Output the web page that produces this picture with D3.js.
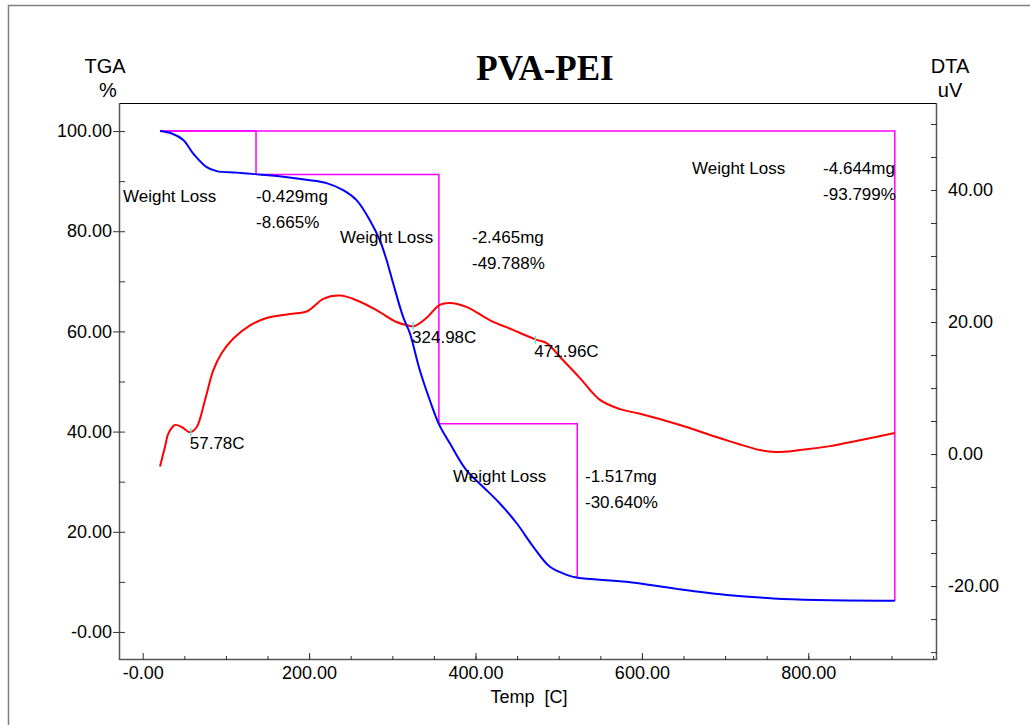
<!DOCTYPE html>
<html>
<head>
<meta charset="utf-8">
<script src="https://cdn.jsdelivr.net/npm/d3@7"></script>
<style>
  body { margin: 0; background: #fff; }
  svg { display: block; font-family: "Liberation Sans", Arial, sans-serif; }
</style>
</head>
<body>
<svg width="1030" height="725"></svg>
<script>
// TGA curve (temperature C, weight %)
let tgaTemp = [20.8, 35, 48.8, 60.8, 76.9, 88.9, 113, 135.3, 169, 201, 221, 241, 257, 273, 285, 293, 301, 313, 321, 333, 345, 356, 369, 389, 409, 429, 449.5, 469.5, 489.5, 509.6, 522.8, 581.7, 641.8, 701.9, 757.9, 810, 904];
let tgaPct = [100, 99.5, 98.2, 95.5, 92.8, 92.0, 91.7, 91.4, 90.9, 90.2, 89.6, 88.2, 86.2, 82.2, 78.2, 74.3, 69.6, 62.9, 59.7, 52.3, 46.3, 41.5, 37.7, 32.3, 29.0, 25.7, 21.7, 17.0, 13.0, 11.4, 10.8, 10.0, 8.6, 7.4, 6.7, 6.4, 6.25];

// DTA curve (temperature C, uV)
let dtaTemp = [20.8, 26.8, 30.8, 38.8, 46.9, 56.9, 64.9, 74.9, 84.9, 95, 108.9, 129, 149, 177, 197, 205, 217, 237, 257, 281, 305, 318, 327, 341, 357, 369, 389, 417, 445, 473.5, 485.6, 501.6, 525.6, 549.6, 573.7, 597.7, 645.8, 693.9, 742, 760, 790, 826, 862, 904];
let dtaUv = [-1.9, 1.1, 3.1, 4.4, 4.1, 3.3, 4.1, 8.2, 12.7, 15.3, 17.5, 19.5, 20.6, 21.2, 21.6, 22.3, 23.5, 24.0, 23.3, 21.8, 20.0, 19.5, 19.4, 20.6, 22.6, 22.9, 22.3, 20.3, 18.8, 17.3, 16.8, 14.7, 11.5, 8.2, 6.8, 6.1, 4.4, 2.4, 0.6, 0.3, 0.6, 1.2, 2.1, 3.2];

// weight loss steps: start / end temperature, start / end weight %
let stepT0 = [20.8, 136.2, 356];
let stepT1 = [136.2, 356, 522.3];
let stepW0 = [100, 91.335, 41.547];
let stepW1 = [91.335, 41.547, 10.907];
let totalStep = { t0: 20.8, t1: 904, w0: 100, w1: 6.201 };

// weight loss annotations
let lossMg = ['-0.429mg', '-2.465mg', '-1.517mg', '-4.644mg'];
let lossPct = ['-8.665%', '-49.788%', '-30.640%', '-93.799%'];

// DTA peaks
let peakTemp = [57.78, 324.98, 471.96];
let peakUv = [3.3, 19.4, 17.3];

// axis ticks
let leftTicks = [0, 20, 40, 60, 80, 100];
let rightTicks = [-20, 0, 20, 40];
let bottomTicks = [0, 200, 400, 600, 800];

let svg = d3.select('svg');
let pLeft = 119, pRight = 937, pTop = 103, pBottom = 660;

let x = d3.scaleLinear().domain([-28.5, 954.7]).range([pLeft, pRight]);
let yL = d3.scaleLinear().domain([-5.6, 105.6]).range([pBottom, pTop]);
let yR = d3.scaleLinear().domain([-31.2, 53.18]).range([pBottom, pTop]);

let fmt = (d) => (d === 0 ? '-0.00' : d.toFixed(2));

// outer frame
svg.append('rect')
  .attr('x', 8.5).attr('y', 5.5)
  .attr('width', 1040).attr('height', 740)
  .attr('fill', 'none').attr('stroke', '#808080').attr('stroke-width', 1.5);

// plot frame top line
svg.append('line')
  .attr('x1', pLeft).attr('x2', pRight).attr('y1', pTop + 0.5).attr('y2', pTop + 0.5)
  .attr('stroke', '#000').attr('stroke-width', 1.2);

// left axis
let leftAxis = svg.append('g').attr('transform', `translate(${pLeft},0)`)
  .call(d3.axisLeft(yL).tickValues(leftTicks).tickFormat(fmt).tickSizeInner(6).tickSizeOuter(0).tickPadding(1));
leftAxis.select('.domain').attr('d', `M0.5,${pTop}V${pBottom}`);
svg.append('g').attr('transform', `translate(${pLeft},0)`)
  .call(d3.axisRight(yL).tickValues(d3.range(0, 101, 10)).tickFormat('').tickSizeInner(6).tickSizeOuter(0))
  .select('.domain').remove();

// right axis
let rightAxis = svg.append('g').attr('transform', `translate(${pRight},0)`)
  .call(d3.axisRight(yR).tickValues(rightTicks).tickFormat((d) => d.toFixed(2)).tickSizeInner(-6).tickSizeOuter(0).tickPadding(11));
rightAxis.select('.domain').attr('d', `M-0.5,${pTop}V${pBottom}`);
svg.append('g').attr('transform', `translate(${pRight},0)`)
  .call(d3.axisLeft(yR).tickValues(d3.range(-30, 51, 5)).tickFormat('').tickSizeInner(6).tickSizeOuter(0))
  .select('.domain').remove();

// bottom axis
let bottomAxis = svg.append('g').attr('transform', `translate(0,${pBottom})`)
  .call(d3.axisBottom(x).tickValues(bottomTicks).tickFormat(fmt).tickSizeInner(-7).tickSizeOuter(0).tickPadding(6));
bottomAxis.select('.domain').attr('d', `M${pLeft},-0.5H${pRight}`);
svg.append('g').attr('transform', `translate(0,${pBottom})`)
  .call(d3.axisBottom(x).tickValues(d3.range(50, 951, 50)).tickFormat('').tickSizeInner(-4).tickSizeOuter(0))
  .select('.domain').remove();

svg.selectAll('.tick text').attr('font-size', 18).attr('fill', '#000')
  .attr('font-family', '"Liberation Sans", Arial, sans-serif');
svg.selectAll('.domain').attr('stroke', '#555').attr('stroke-width', 1.5);
svg.selectAll('.tick line').attr('stroke', '#333');

// titles
svg.append('text').attr('x', 545).attr('y', 80).attr('text-anchor', 'middle')
  .attr('font-family', '"Liberation Serif", "Times New Roman", serif')
  .attr('font-weight', 'bold').attr('font-size', 35).text('PVA-PEI');
svg.append('text').attr('x', 105).attr('y', 73).attr('text-anchor', 'middle').attr('font-size', 20).text('TGA');
svg.append('text').attr('x', 108).attr('y', 97).attr('text-anchor', 'middle').attr('font-size', 20).text('%');
svg.append('text').attr('x', 950).attr('y', 73).attr('text-anchor', 'middle').attr('font-size', 20).text('DTA');
svg.append('text').attr('x', 950).attr('y', 97).attr('text-anchor', 'middle').attr('font-size', 20).text('uV');
svg.append('text').attr('x', 529).attr('y', 703).attr('text-anchor', 'middle').attr('font-size', 18)
  .attr('xml:space', 'preserve').text('Temp  [C]');

// weight loss step lines
let stepGp = svg.append('g').attr('fill', 'none').attr('stroke', '#ff00ff').attr('stroke-width', 1.5);
stepT0.forEach((t0, i) => {
  stepGp.append('path')
    .attr('d', `M${x(t0)},${yL(stepW0[i])}H${x(stepT1[i])}V${yL(stepW1[i])}`);
});
stepGp.append('path')
  .attr('d', `M${x(totalStep.t0)},${yL(totalStep.w0)}H${x(totalStep.t1)}V${yL(totalStep.w1)}`);

// curves
let tgaLine = d3.line().x((d) => x(d[0])).y((d) => yL(d[1])).curve(d3.curveCatmullRom.alpha(0.5));
let dtaLine = d3.line().x((d) => x(d[0])).y((d) => yR(d[1])).curve(d3.curveCatmullRom.alpha(0.5));

svg.append('path').datum(d3.zip(dtaTemp, dtaUv))
  .attr('d', dtaLine).attr('fill', 'none').attr('stroke', '#ff0000').attr('stroke-width', 2);
svg.append('path').datum(d3.zip(tgaTemp, tgaPct))
  .attr('d', tgaLine).attr('fill', 'none').attr('stroke', '#0000ff').attr('stroke-width', 2);

// peak markers and labels
let peakGp = svg.append('g');
peakTemp.forEach((t, i) => {
  let px = x(t), py = yR(peakUv[i]);
  peakGp.append('line').attr('x1', px).attr('x2', px).attr('y1', py - 4).attr('y2', py + 4)
    .attr('stroke', '#66e0e0').attr('stroke-width', 1.5);
  peakGp.append('text').attr('x', px - 1).attr('y', py + 17).attr('font-size', 17)
    .text(t.toFixed(2) + 'C');
});

// weight loss annotations, placed in data coordinates (temp, weight %)
let annotLayout = [
  { tLabel: -23.7, tValue: 136.2, w: 85.8 },
  { tLabel: 237.1, tValue: 395.8, w: 77.6 },
  { tLabel: 373, tValue: 531.6, w: 29.9 },
  { tLabel: 660.2, tValue: 817.8, w: 91.4 },
];
let annotGp = svg.append('g').attr('font-size', 17).attr('fill', '#000');
annotLayout.forEach((a, i) => {
  let by = yL(a.w);
  annotGp.append('text').attr('x', x(a.tLabel)).attr('y', by).text('Weight Loss');
  annotGp.append('text').attr('x', x(a.tValue)).attr('y', by).text(lossMg[i]);
  annotGp.append('text').attr('x', x(a.tValue)).attr('y', by + 26).text(lossPct[i]);
});
</script>
</body>
</html>
